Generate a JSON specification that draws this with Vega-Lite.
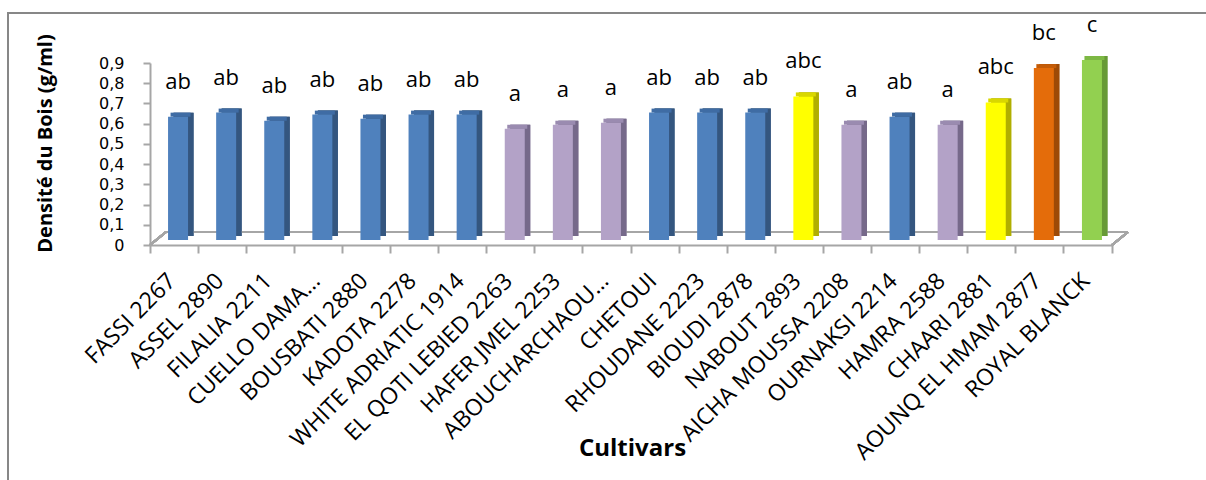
{
  "$schema": "https://vega.github.io/schema/vega-lite/v6.json",
  "autosize": "none",
  "padding": {"left": 8, "top": 13, "right": 0, "bottom": 0},
  "width": 1250,
  "height": 520,
  "background": "white",
  "config": {
    "view": {"stroke": "#878787", "strokeWidth": 2},
    "font": "Open Sans",
    "text": {"font": "Open Sans"}
  },
  "data": {
    "values": [
      {"cultivar": "FASSI 2267", "densite": 0.61, "groupe": "ab"},
      {"cultivar": "ASSEL 2890", "densite": 0.63, "groupe": "ab"},
      {"cultivar": "FILALIA 2211", "densite": 0.59, "groupe": "ab"},
      {"cultivar": "CUELLO DAMA…", "densite": 0.62, "groupe": "ab"},
      {"cultivar": "BOUSBATI 2880", "densite": 0.6, "groupe": "ab"},
      {"cultivar": "KADOTA 2278", "densite": 0.62, "groupe": "ab"},
      {"cultivar": "WHITE ADRIATIC 1914", "densite": 0.62, "groupe": "ab"},
      {"cultivar": "EL QOTI LEBIED 2263", "densite": 0.55, "groupe": "a"},
      {"cultivar": "HAFER JMEL 2253", "densite": 0.57, "groupe": "a"},
      {"cultivar": "ABOUCHARCHAOU…", "densite": 0.58, "groupe": "a"},
      {"cultivar": "CHETOUI", "densite": 0.63, "groupe": "ab"},
      {"cultivar": "RHOUDANE 2223", "densite": 0.63, "groupe": "ab"},
      {"cultivar": "BIOUDI 2878", "densite": 0.63, "groupe": "ab"},
      {"cultivar": "NABOUT 2893", "densite": 0.71, "groupe": "abc"},
      {"cultivar": "AICHA MOUSSA 2208", "densite": 0.57, "groupe": "a"},
      {"cultivar": "OURNAKSI 2214", "densite": 0.61, "groupe": "ab"},
      {"cultivar": "HAMRA 2588", "densite": 0.57, "groupe": "a"},
      {"cultivar": "CHAARI 2881", "densite": 0.68, "groupe": "abc"},
      {"cultivar": "AOUNQ EL HMAM 2877", "densite": 0.85, "groupe": "bc"},
      {"cultivar": "ROYAL BLANCK", "densite": 0.89, "groupe": "c"}
    ]
  },
  "resolve": {"scale": {"fill": "independent"}},
  "layer": [
    {
      "mark": {"type": "bar", "size": 20, "xOffset": 9.5, "yOffset": -9},
      "encoding": {
        "x": {
          "field": "cultivar",
          "type": "nominal",
          "sort": null,
          "scale": {
            "domain": ["FASSI 2267", "ASSEL 2890", "FILALIA 2211", "CUELLO DAMA…", "BOUSBATI 2880", "KADOTA 2278", "WHITE ADRIATIC 1914", "EL QOTI LEBIED 2263", "HAFER JMEL 2253", "ABOUCHARCHAOU…", "CHETOUI", "RHOUDANE 2223", "BIOUDI 2878", "NABOUT 2893", "AICHA MOUSSA 2208", "OURNAKSI 2214", "HAMRA 2588", "CHAARI 2881", "AOUNQ EL HMAM 2877", "ROYAL BLANCK"],
            "range": [142, 1104],
            "paddingInner": 0,
            "paddingOuter": 0
          },
          "axis": {
            "orient": "bottom",
            "offset": -288,
            "bandPosition": 1,
            "tickExtra": true,
            "labelOffset": -2,
            "labelAngle": -45,
            "labelAlign": "right",
            "labelBaseline": "middle",
            "labelFontSize": 23,
            "labelColor": "black",
            "labelPadding": 24,
            "labelLimit": 400,
            "labelOverlap": false,
            "domainColor": "#a6a6a6",
            "domainWidth": 2,
            "tickColor": "#a6a6a6",
            "tickWidth": 2,
            "tickSize": 8,
            "title": "Cultivars",
            "titleFontSize": 24,
            "titleFontWeight": "bold",
            "titleColor": "black",
            "titleAlign": "center",
            "titleBaseline": "alphabetic",
            "titleX": 624,
            "titleY": 210
          }
        },
        "y": {
          "field": "densite",
          "type": "quantitative",
          "scale": {"domain": [0, 0.9], "range": [232, 50], "nice": false},
          "axis": {
            "orient": "left",
            "offset": -142,
            "values": [0, 0.1, 0.2, 0.3, 0.4, 0.5, 0.6, 0.7, 0.8, 0.9],
            "labelExpr": "datum.value == 0 ? '0' : replace(format(datum.value, '.1f'), '.', ',')",
            "labelOverlap": false,
            "grid": false,
            "labelFont": "DejaVu Sans",
            "labelFontSize": 16,
            "labelColor": "black",
            "labelPadding": 19,
            "domainColor": "#a6a6a6",
            "domainWidth": 2,
            "tickColor": "#a6a6a6",
            "tickWidth": 2,
            "tickSize": 7,
            "title": "Densité du Bois (g/ml)",
            "titleFontSize": 20,
            "titleFontWeight": "bold",
            "titleColor": "black",
            "titleAngle": -90,
            "titleAlign": "center",
            "titleBaseline": "middle",
            "titleX": -105,
            "titleY": 130
          }
        },
        "fill": {
          "field": "groupe",
          "type": "nominal",
          "scale": {"domain": ["a", "ab", "abc", "bc", "c"], "range": ["#76698a", "#34567f", "#b0ae00", "#9e4a06", "#679a36"]},
          "legend": null
        }
      }
    },
    {
      "mark": {"type": "rule", "color": "#a6a6a6", "strokeWidth": 2, "xOffset": 16, "x2Offset": 16, "yOffset": -13},
      "encoding": {
        "x": {"datum": "FASSI 2267", "type": "nominal", "bandPosition": 0},
        "x2": {"datum": "ROYAL BLANCK", "bandPosition": 1},
        "y": {"datum": 0, "type": "quantitative"}
      }
    },
    {
      "mark": {"type": "rule", "color": "#a6a6a6", "strokeWidth": 2, "x2Offset": 16, "y2Offset": -13},
      "encoding": {
        "x": {"datum": "FASSI 2267", "type": "nominal", "bandPosition": 0},
        "x2": {"datum": "FASSI 2267", "bandPosition": 0},
        "y": {"datum": 0, "type": "quantitative"},
        "y2": {"datum": 0}
      }
    },
    {
      "mark": {"type": "rule", "color": "#a6a6a6", "strokeWidth": 2, "x2Offset": 16, "y2Offset": -13},
      "encoding": {
        "x": {"datum": "ROYAL BLANCK", "type": "nominal", "bandPosition": 1},
        "x2": {"datum": "ROYAL BLANCK", "bandPosition": 1},
        "y": {"datum": 0, "type": "quantitative"},
        "y2": {"datum": 0}
      }
    },
    {
      "mark": {"type": "bar", "size": 20, "xOffset": 9.5, "yOffset": -9},
      "encoding": {
        "x": {"field": "cultivar", "type": "nominal", "sort": null},
        "y": {"field": "densite", "type": "quantitative"},
        "fill": {
          "field": "groupe",
          "type": "nominal",
          "scale": {"domain": ["a", "ab", "abc", "bc", "c"], "range": ["#76698a", "#34567f", "#b0ae00", "#9e4a06", "#679a36"]},
          "legend": null
        }
      }
    },
    {
      "mark": {"type": "bar", "size": 20, "xOffset": 6.5, "yOffset": -9, "y2Offset": -5},
      "encoding": {
        "x": {"field": "cultivar", "type": "nominal", "sort": null},
        "y": {"field": "densite", "type": "quantitative"},
        "y2": {"field": "densite"},
        "fill": {
          "field": "groupe",
          "type": "nominal",
          "scale": {"domain": ["a", "ab", "abc", "bc", "c"], "range": ["#9a8bb0", "#3f6ca4", "#d9d700", "#c45c08", "#7db844"]},
          "legend": null
        }
      }
    },
    {
      "mark": {"type": "bar", "size": 20, "xOffset": 4, "yOffset": -5},
      "encoding": {
        "x": {"field": "cultivar", "type": "nominal", "sort": null},
        "y": {"field": "densite", "type": "quantitative"},
        "fill": {
          "field": "groupe",
          "type": "nominal",
          "scale": {"domain": ["a", "ab", "abc", "bc", "c"], "range": ["#b3a2c7", "#4f81bd", "#ffff00", "#e46c0a", "#92d050"]},
          "legend": null
        }
      }
    },
    {
      "mark": {"type": "text", "fontSize": 22, "xOffset": 4, "yOffset": -33, "baseline": "alphabetic", "align": "center", "color": "black"},
      "encoding": {
        "x": {"field": "cultivar", "type": "nominal", "sort": null},
        "y": {"field": "densite", "type": "quantitative"},
        "text": {"field": "groupe"}
      }
    }
  ]
}
